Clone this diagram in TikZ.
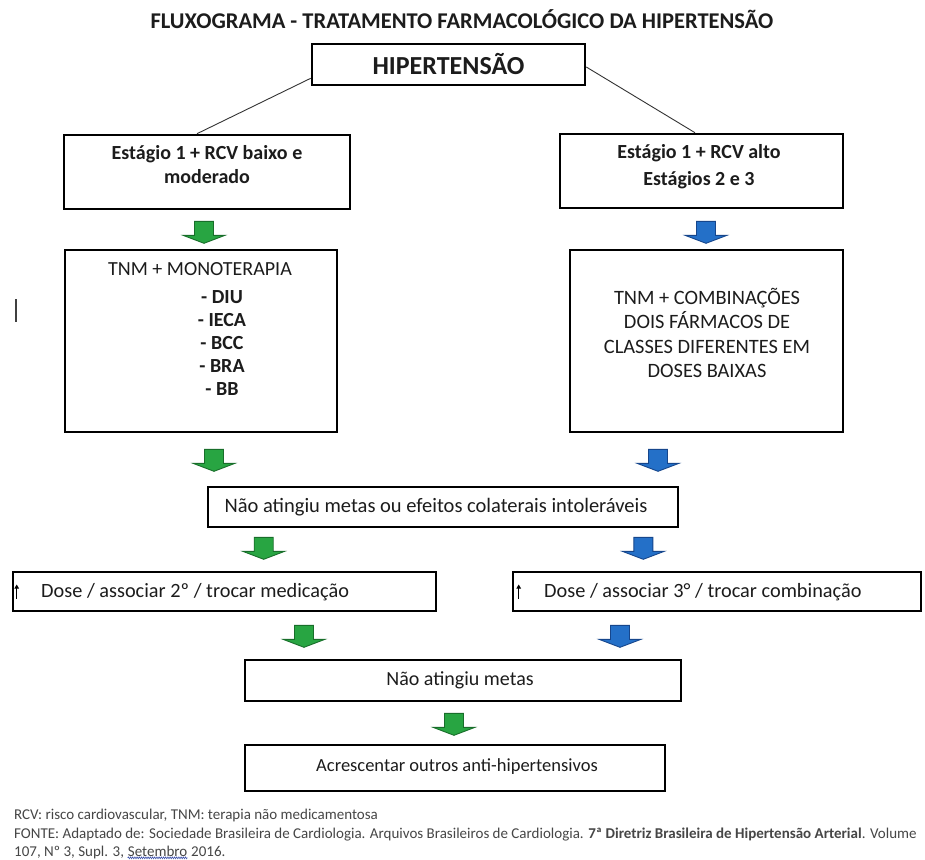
\documentclass[tikz,border=0pt]{standalone}
\usepackage{fontspec}
\setmainfont{Carlito}
\usetikzlibrary{arrows.meta,calc,decorations.pathmorphing}
\definecolor{gfill}{RGB}{40,165,66}
\definecolor{gedge}{RGB}{24,110,42}
\definecolor{bfill}{RGB}{36,112,200}
\definecolor{bedge}{RGB}{22,70,140}
\definecolor{ink}{RGB}{28,28,28}
\definecolor{foot}{RGB}{70,70,70}
\definecolor{squig}{RGB}{60,80,170}
\begin{document}
\begin{tikzpicture}[x=1pt,y=-1pt,
  box/.style={draw=black, line width=2.6pt, inner sep=0pt, text=ink, align=center},
  txt/.style={inner sep=0pt, text=ink, align=center},
  regtxt/.style={txt, font=\fontsize{20}{24}\selectfont},
  boldtxt/.style={txt, font=\bfseries\fontsize{20}{24}\selectfont},
  foottxt/.style={inner sep=0pt, text=foot, anchor=base west, font=\fontsize{15}{17}\selectfont},
  link/.style={draw=black!80, line width=0.9pt},
  blkarrow/.pic={\path[pic actions, line width=0.9pt] (-9.5,0) -- (9.5,0) -- (9.5,14) -- (21,14) -- (0,22) -- (-21,14) -- (-9.5,14) -- cycle;},
  garrow/.style={fill=gfill, draw=gedge},
  barrow/.style={fill=bfill, draw=bedge},
  uparr/.style={draw=black, line width=1pt, -{Triangle[length=4pt,width=4.5pt]}}
  ]
\useasboundingbox (0,0) rectangle (925,859);
\fill[white] (0,0) rectangle (925,859);

% title
\node[txt, font=\bfseries\fontsize{22.5}{26}\selectfont] (title) at (462,19) {FLUXOGRAMA - TRATAMENTO FARMACOLÓGICO DA HIPERTENSÃO};

% top box
\node[box, minimum width=273, minimum height=41, font=\bfseries\fontsize{26}{30}\selectfont] (hip) at (448.5,64.5) {HIPERTENSÃO};

% stage boxes
\node[box, minimum width=286, minimum height=74] (est1) at (207,172) {};
\node[boldtxt] (est1t) at (207,165) {Estágio 1 + RCV baixo e\\moderado};
\node[box, minimum width=283, minimum height=74] (est2) at (701.5,171) {};
\node[boldtxt, font=\bfseries\fontsize{20}{27}\selectfont] (est2t) at (699,166.5) {Estágio 1 + RCV alto\\Estágios 2 e 3};

\path[link] ([yshift=8]hip.south west) -- ([xshift=-10]est1.north);
\path[link] ([yshift=-2.5]hip.east) -- ([xshift=-6.5]est2.north);

% treatment boxes
\node[box, minimum width=272, minimum height=182] (tnm1) at (201,341) {};
\node[regtxt] (tnm1t) at (200,269) {TNM + MONOTERAPIA};
\node[boldtxt, font=\bfseries\fontsize{20}{23}\selectfont] (tnm1i) at (222,343) {- DIU\\- IECA\\- BCC\\- BRA\\- BB};
\node[box, minimum width=273, minimum height=182] (tnm2) at (706.5,341) {};
\node[regtxt, font=\fontsize{20.4}{24.6}\selectfont] (tnm2t) at (707,333) {TNM + COMBINAÇÕES\\DOIS FÁRMACOS DE\\CLASSES DIFERENTES EM\\DOSES BAIXAS};

% first failure box
\node[box, minimum width=470, minimum height=40] (nao1) at (443,507) {};
\node[regtxt, font=\fontsize{20.5}{24}\selectfont] (nao1t) at (436,507) {Não atingiu metas ou efeitos colaterais intoleráveis};

% dose boxes
\node[box, minimum width=423, minimum height=39] (dose1) at (224.5,591.5) {};
\node[regtxt, anchor=west, font=\fontsize{20.3}{24}\selectfont] (dose1t) at (41,592) {Dose / associar 2º / trocar medicação};
\coordinate (up1a) at ([xshift=5]dose1.west);
\path[uparr] ([yshift=-7]up1a) -- ([yshift=7]up1a);
\node[box, minimum width=408, minimum height=39] (dose2) at (717,591.5) {};
\node[regtxt, anchor=west, font=\fontsize{20.3}{24}\selectfont] (dose2t) at (544,592) {Dose / associar 3° / trocar combinação};
\coordinate (up2a) at ([xshift=7]dose2.west);
\path[uparr] ([yshift=-7]up2a) -- ([yshift=7]up2a);

% second failure and final
\node[box, minimum width=436, minimum height=41] (metas) at (463,680.5) {};
\node[regtxt] (metast) at (460,680) {Não atingiu metas};
\node[box, minimum width=420, minimum height=46] (acres) at (455,768) {};
\node[regtxt, font=\fontsize{18.5}{22}\selectfont] (acrest) at (457,767) {Acrescentar outros anti-hipertensivos};

% block arrows
\pic[garrow] at ($(est1.south)+(-3,11)$) {blkarrow};
\pic[barrow] at ($(est2.south)+(4.5,12)$) {blkarrow};
\pic[garrow] at ($(tnm1.south)+(13,16)$) {blkarrow};
\pic[barrow] at ($(tnm2.south)+(-48.5,16)$) {blkarrow};
\pic[garrow] at ($(nao1.south west)+(57,9)$) {blkarrow};
\pic[barrow] at ($(nao1.south east)+(-36,9)$) {blkarrow};
\pic[garrow] at ($(dose1.south)+(79.5,13)$) {blkarrow};
\pic[barrow] at ($(dose2.south)+(-97,13)$) {blkarrow};
\pic[garrow] at ($(metas.south)+(-9,11)$) {blkarrow};

% stray cursor mark
\draw[black!75, line width=1.4pt] (16,299) -- (16,322);

% footer
\node[foottxt] (f1) at (14,819) {RCV: risco cardiovascular, TNM: terapia não medicamentosa};
\node[foottxt] (f2) at (14,838) {FONTE: Adaptado de: Sociedade Brasileira de Cardiologia. Arquivos Brasileiros de Cardiologia. \textbf{7ª Diretriz Brasileira de Hipertensão Arterial}. Volume};
\node[foottxt] (f3a) at (14,856) {107, Nº 3, Supl. 3,};
\node[foottxt] (f3b) at ([xshift=3.5pt]f3a.base east) {Setembro};
\node[foottxt] (f3c) at ([xshift=3.5pt]f3b.base east) {2016.};
\draw[squig, line width=0.6pt, decorate, decoration={zigzag, amplitude=0.9pt, segment length=2.2pt}]
  ([yshift=-1.8pt]f3b.base west) -- ([yshift=-1.8pt]f3b.base east);
\end{tikzpicture}
\end{document}
